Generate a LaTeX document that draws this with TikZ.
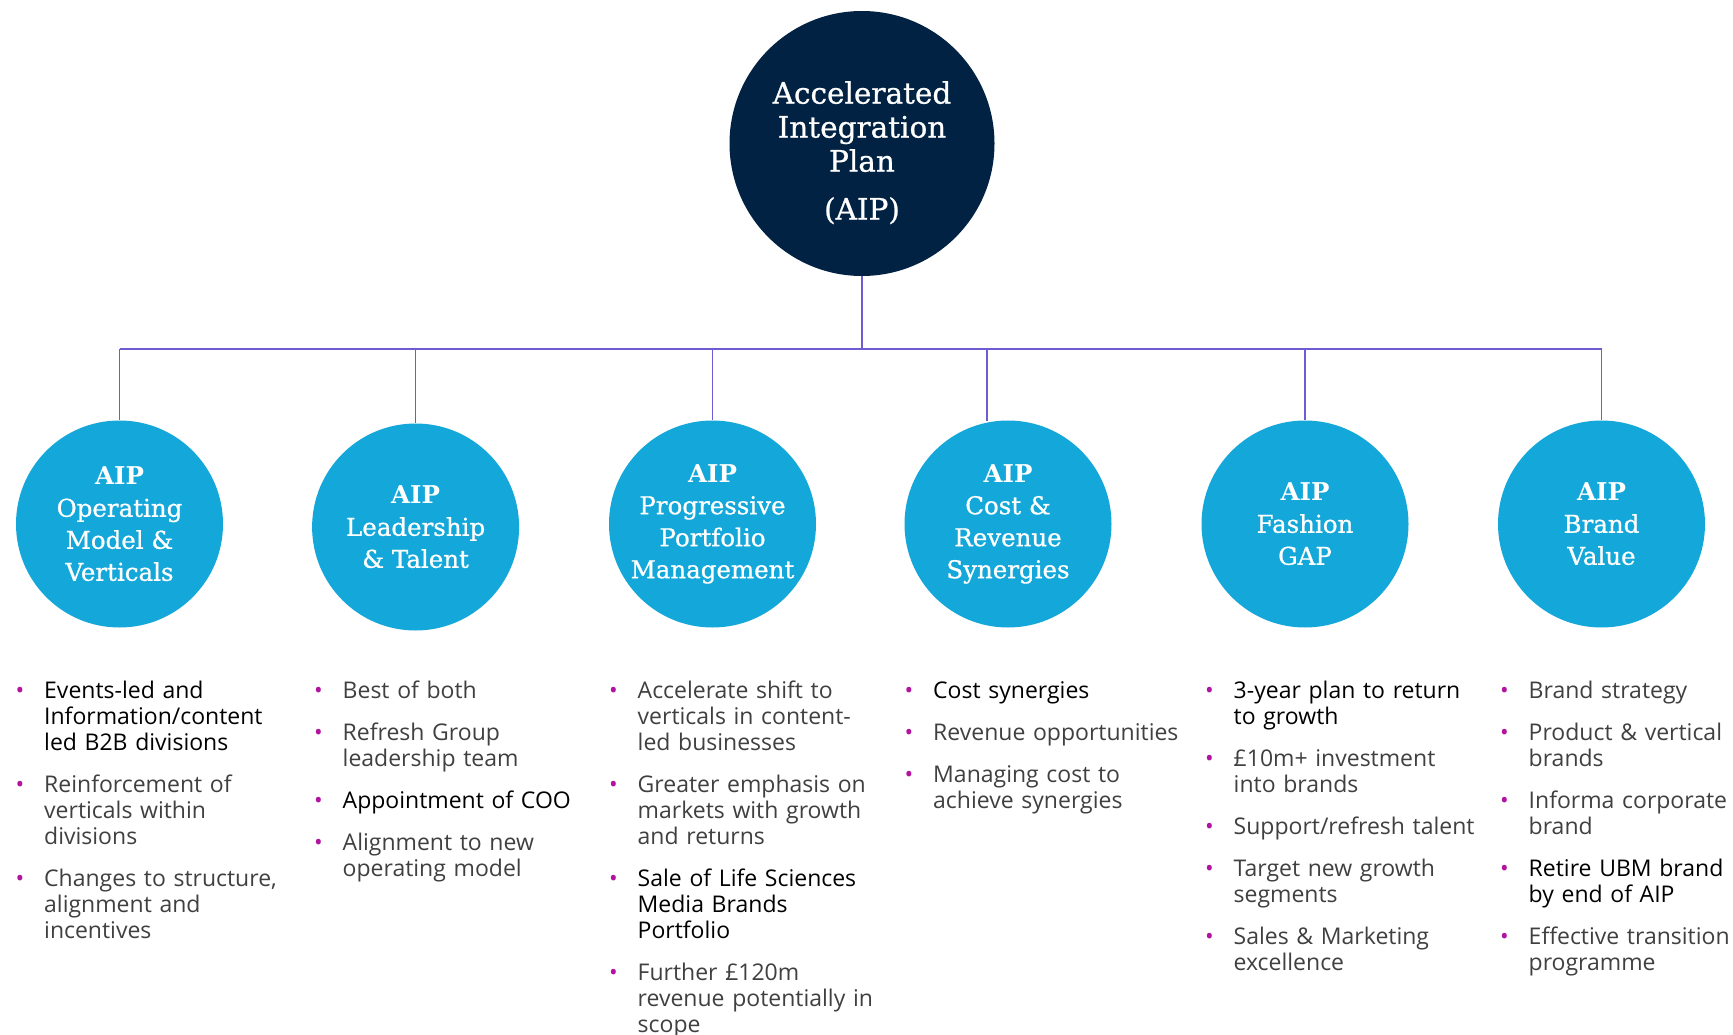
\documentclass[tikz,border=0pt]{standalone}
\usepackage{fontspec}
\setmainfont{Open Sans}
\newfontfamily\slab[FakeBold=0.8]{DejaVu Serif}
\newfontfamily\slabb{DejaVu Serif Bold}
\definecolor{navy}{RGB}{1,34,66}
\definecolor{aipcyan}{RGB}{20,167,217}
\definecolor{conncol}{RGB}{110,92,210}
\definecolor{bul}{RGB}{178,20,160}
\definecolor{txtgray}{RGB}{64,64,64}
\newcommand\bitem[1]{\par\noindent\llap{\textcolor{bul}{\textbullet}\hspace{20pt}}#1}
\newcommand\bitemk[1]{\par\noindent\llap{\textcolor{bul}{\textbullet}\hspace{20pt}}\textcolor{black}{#1}}
\newcommand\colsetup{\parskip=16pt\relax\hyphenpenalty=10000\relax}
\newcommand\aipb{{\slabb AIP}}
\tikzset{
  hub/.style={circle,fill=navy,inner sep=0pt,minimum size=265pt},
  hubtext/.style={text=white,align=center,inner sep=0pt,font=\slab\fontsize{29.5}{34}\selectfont},
  aip/.style={circle,fill=aipcyan,inner sep=0pt,minimum size=207pt,text=white,align=center,font=\slab\fontsize{24.5}{32}\selectfont},
  conn/.style={draw=conncol,line width=1.5pt},
  col/.style={anchor=north west,inner sep=0pt,text width=285pt,align=left,text=txtgray,
    font=\fontsize{23}{26}\selectfont}
}
\begin{document}
\begin{tikzpicture}[x=1pt,y=-1pt]
\useasboundingbox[fill=white] (0,0) rectangle (1733,1035);
% hub
\node[hub] (hub) at (862,143.5) {};
\node[hubtext,anchor=north] (hubt) at (862,81) {Accelerated\\Integration\\Plan\\[14pt](AIP)};
% children
\node[aip] (c1) at (119.5,524) {\aipb\\Operating\\Model \&\\Verticals};
\node[aip] (c2) at (415.6,527) {\aipb\\Leadership\\\& Talent};
\node[aip] (c3) at (712.5,524) {\aipb\\Progressive\\Portfolio\\Management};
\node[aip] (c4) at (1008,524) {\aipb\\Cost \&\\Revenue\\Synergies};
\node[aip] (c5) at (1305,524) {\aipb\\Fashion\\GAP};
\node[aip] (c6) at (1601.5,524) {\aipb\\Brand\\Value};
% connectors
\coordinate (busL) at (119.5,349);
\coordinate (busR) at (1601.5,349);
\coordinate (c4top) at (987,421);
\draw[conn] (hub.south) -- (hub.south |- busL);
\draw[conn] (busL) -- (busR);
\draw[conn] (c1.north |- busL) -- (c1.north);
\draw[conn] (c2.north |- busL) -- (c2.north);
\draw[conn] (c3.north |- busL) -- (c3.north);
\draw[conn] (c4top |- busL) -- (c4top);
\draw[conn] (c5.north |- busL) -- (c5.north);
\draw[conn] (c6.north |- busL) -- (c6.north);
% bullet columns
\node[col] (l1) at (44,656) {\colsetup
\bitemk{Events-led and\newline Information/content\newline led B2B divisions}
\bitem{Reinforcement of\newline verticals within\newline divisions}
\bitem{Changes to structure,\newline alignment and\newline incentives}};
\node[col] (l2) at (342.5,656) {\colsetup
\bitem{Best of both}
\bitem{Refresh Group\newline leadership team}
\bitemk{Appointment of COO}
\bitem{Alignment to new\newline operating model}};
\node[col] (l3) at (637.5,656) {\colsetup
\bitem{Accelerate shift to\newline verticals in content-\newline led businesses}
\bitem{Greater emphasis on\newline markets with growth\newline and returns}
\bitemk{Sale of Life Sciences\newline Media Brands\newline Portfolio}
\bitem{Further £120m\newline revenue potentially in\newline scope}};
\node[col] (l4) at (933,656) {\colsetup
\bitemk{Cost synergies}
\bitem{Revenue opportunities}
\bitem{Managing cost to\newline achieve synergies}};
\node[col] (l5) at (1233.5,656) {\colsetup
\bitemk{3-year plan to return\newline to growth}
\bitem{£10m+ investment\newline into brands}
\bitem{Support/refresh talent}
\bitem{Target new growth\newline segments}
\bitem{Sales \& Marketing\newline excellence}};
\node[col,text width=280pt] (l6) at (1528.5,656) {\colsetup
\bitem{Brand strategy}
\bitem{Product \& vertical\newline brands}
\bitem{Informa corporate\newline brand}
\bitemk{Retire UBM brand\newline by end of AIP}
\bitem{Effective transition\newline programme}};
\end{tikzpicture}
\end{document}
